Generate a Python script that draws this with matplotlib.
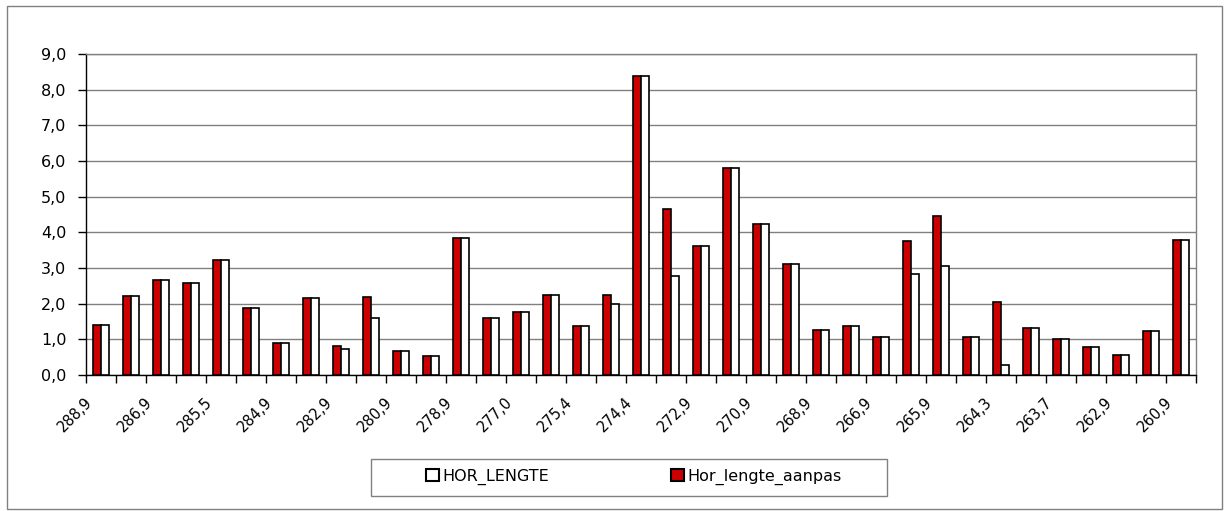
import numpy as np
import matplotlib
matplotlib.use("Agg")
import matplotlib.pyplot as plt
from matplotlib.patches import Rectangle, Patch
from matplotlib.transforms import ScaledTranslation

plt.rcParams['font.family'] = ['DejaVu Sans']
plt.rcParams['font.size'] = 11.5

# horizontale lengte per station (37 stations, every other one labelled)
hor_lengte_aanpas = [1.40, 2.22, 2.66, 2.57, 3.22, 1.88, 0.90, 2.16, 0.82, 2.20,
                     0.66, 0.52, 3.84, 1.60, 1.78, 2.24, 1.38, 2.24, 8.39, 4.66,
                     3.62, 5.79, 4.24, 3.10, 1.26, 1.37, 1.06, 3.75, 4.46, 1.06,
                     2.05, 1.33, 1.01, 0.78, 0.57, 1.22, 3.79]
hor_lengte = [1.40, 2.22, 2.66, 2.57, 3.22, 1.88, 0.90, 2.16, 0.73, 1.60,
              0.66, 0.52, 3.84, 1.60, 1.78, 2.24, 1.38, 2.00, 8.39, 2.78,
              3.62, 5.79, 4.24, 3.10, 1.26, 1.37, 1.06, 2.83, 3.07, 1.06,
              0.28, 1.33, 1.01, 0.78, 0.57, 1.22, 3.79]
tick_labels = ['288,9', '286,9', '285,5', '284,9', '282,9', '280,9', '278,9',
               '277,0', '275,4', '274,4', '272,9', '270,9', '268,9', '266,9',
               '265,9', '264,3', '263,7', '262,9', '260,9']
y_ticks = [0, 1, 2, 3, 4, 5, 6, 7, 8, 9]

red = '#cc0000'
W, H = 1227, 511
fig = plt.figure(figsize=(W / 100, H / 100), dpi=100)
ax = fig.add_axes([86 / W, 1 - 375 / H, (1196 - 86) / W, (375 - 54) / H])

n = len(hor_lengte)
x = np.arange(n)
bw = 0.27
ax.bar(x - bw / 2, hor_lengte_aanpas, bw, color=red, edgecolor='black', linewidth=1.2, zorder=3)
ax.bar(x + bw / 2, hor_lengte, bw, color='white', edgecolor='black', linewidth=1.2, zorder=3)

ax.set_xlim(-0.5, n - 0.5)
ax.set_ylim(0, 9)
ax.set_yticks(y_ticks)
ax.set_yticklabels([f'{v:.1f}'.replace('.', ',') for v in y_ticks])
ax.yaxis.grid(True, color='#808080', linewidth=1.0, zorder=0)

ax.set_xticks(np.arange(0, n, 2))
ax.set_xticklabels(tick_labels, rotation=45, ha='right', va='center',
                   rotation_mode='anchor', fontsize=10.5)
ax.set_xticks(np.arange(-0.5, n), minor=True)
ax.tick_params(axis='x', which='major', length=0, pad=18)
ax.tick_params(axis='x', which='minor', length=6, width=1, color='black')
ax.tick_params(axis='y', length=6, width=1, pad=8, color='black')
for lbl in ax.get_xticklabels():
    lbl.set_transform(lbl.get_transform() + ScaledTranslation(-11 / 100, 0, fig.dpi_scale_trans))

ax.spines['left'].set_color('black')
ax.spines['bottom'].set_color('black')
ax.spines['top'].set_color('#808080')
ax.spines['right'].set_color('#808080')
for s in ax.spines.values():
    s.set_linewidth(1.0)

# outer chart frame and legend box
fig.add_artist(Rectangle((7 / W, 1 - 509 / H), (1222 - 7) / W, (509 - 6) / H,
                         transform=fig.transFigure, fill=False, edgecolor='#808080', linewidth=1.0))
fig.add_artist(Rectangle((371 / W, 1 - 496 / H), (887 - 371) / W, (496 - 459) / H,
                         transform=fig.transFigure, fill=False, edgecolor='#808080', linewidth=1.0))
handles = [Patch(facecolor='white', edgecolor='black', linewidth=1.5),
           Patch(facecolor=red, edgecolor='black', linewidth=1.5)]
fig.legend(handles, ['HOR_LENGTE', 'Hor_lengte_aanpas'], loc='center', ncol=2,
           bbox_to_anchor=(634 / W, 1 - 477 / H), frameon=False,
           handlelength=0.8, handleheight=0.8, handletextpad=0.25, columnspacing=7.6)

fig.savefig('out.png', dpi=100)
